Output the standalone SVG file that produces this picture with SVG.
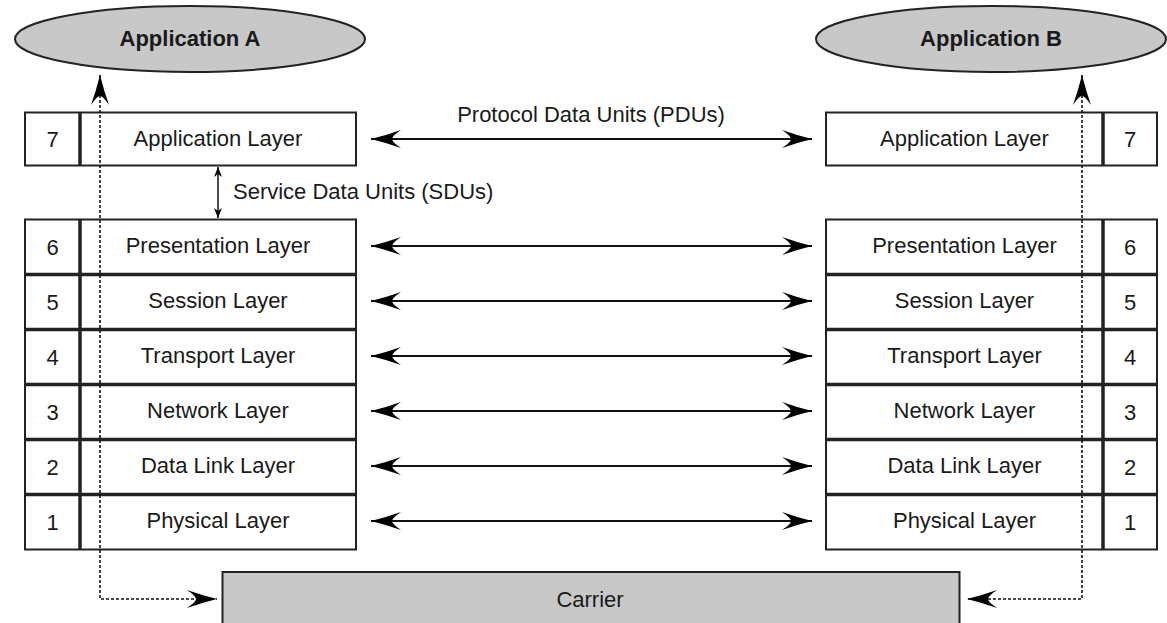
<svg xmlns="http://www.w3.org/2000/svg" width="1167" height="623" viewBox="0 0 1167 623">
<style>
text{font-family:"Liberation Sans",Arial,sans-serif;fill:#1a1a1a;font-size:22px}
.c{text-anchor:middle}
.b{font-weight:bold;font-size:22px}
.box{fill:#fff;stroke:#222;stroke-width:2}
.div{stroke:#222;stroke-width:3.5}
.sep{stroke:#222;stroke-width:3.5}
.ell{fill:#c8c8c8;stroke:#222;stroke-width:2}
.car{fill:#c8c8c8;stroke:#222;stroke-width:2}
.arr{stroke:#111;stroke-width:2;fill:none;marker-start:url(#ah);marker-end:url(#ah)}
.sdu{stroke:#111;stroke-width:1.5;fill:none;marker-start:url(#sh);marker-end:url(#sh)}
.dash{stroke:#111;stroke-width:1.6;fill:none;stroke-dasharray:3 2;marker-start:url(#ah);marker-end:url(#ah)}
</style>
<defs>
<marker id="ah" markerUnits="userSpaceOnUse" markerWidth="32" markerHeight="22" viewBox="0 0 32 22" refX="30" refY="11" orient="auto-start-reverse">
<path d="M30,11 Q14,7 0,2 Q9,8 9,11 Q9,14 0,20 Q14,15 30,11 Z" fill="#000" stroke="none"/>
</marker>
<marker id="sh" markerUnits="userSpaceOnUse" markerWidth="12" markerHeight="10" viewBox="0 0 12 10" refX="10" refY="5" orient="auto-start-reverse">
<path d="M10,5 L0,1 L3,5 L0,9 Z" fill="#000" stroke="none"/>
</marker>
</defs>

<g id="appA"><ellipse class="ell" cx="190" cy="39" rx="175" ry="33"/><text class="c b" x="190" y="46">Application A</text></g>
<g id="appB"><ellipse class="ell" cx="991" cy="39" rx="175" ry="33"/><text class="c b" x="991" y="46">Application B</text></g>

<g id="left7"><rect class="box" x="25" y="112.5" width="331" height="53"/><line class="div" x1="80" y1="112.5" x2="80" y2="165.5"/><text class="c" x="52.5" y="147">7</text><text class="c" x="218" y="146">Application Layer</text></g>
<g id="right7"><rect class="box" x="826" y="112.5" width="331" height="53"/><line class="div" x1="1103" y1="112.5" x2="1103" y2="165.5"/><text class="c" x="1130" y="147">7</text><text class="c" x="964.5" y="146">Application Layer</text></g>

<g id="left6"><rect class="box" x="25" y="219.5" width="331" height="55"/><line class="div" x1="80" y1="219.5" x2="80" y2="274.5"/><text class="c" x="52.5" y="255">6</text><text class="c" x="218" y="253">Presentation Layer</text></g>
<g id="left5"><rect class="box" x="25" y="274.5" width="331" height="55"/><line class="div" x1="80" y1="274.5" x2="80" y2="329.5"/><text class="c" x="52.5" y="310">5</text><text class="c" x="218" y="308">Session Layer</text></g>
<g id="left4"><rect class="box" x="25" y="329.5" width="331" height="55"/><line class="div" x1="80" y1="329.5" x2="80" y2="384.5"/><text class="c" x="52.5" y="365">4</text><text class="c" x="218" y="363">Transport Layer</text></g>
<g id="left3"><rect class="box" x="25" y="384.5" width="331" height="55"/><line class="div" x1="80" y1="384.5" x2="80" y2="439.5"/><text class="c" x="52.5" y="420">3</text><text class="c" x="218" y="418">Network Layer</text></g>
<g id="left2"><rect class="box" x="25" y="439.5" width="331" height="55"/><line class="div" x1="80" y1="439.5" x2="80" y2="494.5"/><text class="c" x="52.5" y="475">2</text><text class="c" x="218" y="473">Data Link Layer</text></g>
<g id="left1"><rect class="box" x="25" y="494.5" width="331" height="55"/><line class="div" x1="80" y1="494.5" x2="80" y2="549.5"/><text class="c" x="52.5" y="530">1</text><text class="c" x="218" y="528">Physical Layer</text></g>
<g id="leftsep"><path class="sep" d="M25,274.5H356M25,329.5H356M25,384.5H356M25,439.5H356M25,494.5H356"/></g>

<g id="right6"><rect class="box" x="826" y="219.5" width="331" height="55"/><line class="div" x1="1103" y1="219.5" x2="1103" y2="274.5"/><text class="c" x="1130" y="255">6</text><text class="c" x="964.5" y="253">Presentation Layer</text></g>
<g id="right5"><rect class="box" x="826" y="274.5" width="331" height="55"/><line class="div" x1="1103" y1="274.5" x2="1103" y2="329.5"/><text class="c" x="1130" y="310">5</text><text class="c" x="964.5" y="308">Session Layer</text></g>
<g id="right4"><rect class="box" x="826" y="329.5" width="331" height="55"/><line class="div" x1="1103" y1="329.5" x2="1103" y2="384.5"/><text class="c" x="1130" y="365">4</text><text class="c" x="964.5" y="363">Transport Layer</text></g>
<g id="right3"><rect class="box" x="826" y="384.5" width="331" height="55"/><line class="div" x1="1103" y1="384.5" x2="1103" y2="439.5"/><text class="c" x="1130" y="420">3</text><text class="c" x="964.5" y="418">Network Layer</text></g>
<g id="right2"><rect class="box" x="826" y="439.5" width="331" height="55"/><line class="div" x1="1103" y1="439.5" x2="1103" y2="494.5"/><text class="c" x="1130" y="475">2</text><text class="c" x="964.5" y="473">Data Link Layer</text></g>
<g id="right1"><rect class="box" x="826" y="494.5" width="331" height="55"/><line class="div" x1="1103" y1="494.5" x2="1103" y2="549.5"/><text class="c" x="1130" y="530">1</text><text class="c" x="964.5" y="528">Physical Layer</text></g>
<g id="rightsep"><path class="sep" d="M826,274.5H1157M826,329.5H1157M826,384.5H1157M826,439.5H1157M826,494.5H1157"/></g>

<g id="carrier"><rect class="car" x="222.5" y="572" width="737" height="70"/><text class="c" x="590" y="607">Carrier</text></g>

<g id="connectors">
<line class="arr" x1="371" y1="139" x2="812" y2="139"/>
<line class="arr" x1="371" y1="246" x2="812" y2="246"/>
<line class="arr" x1="371" y1="301" x2="812" y2="301"/>
<line class="arr" x1="371" y1="356" x2="812" y2="356"/>
<line class="arr" x1="371" y1="411" x2="812" y2="411"/>
<line class="arr" x1="371" y1="466" x2="812" y2="466"/>
<line class="arr" x1="371" y1="521" x2="812" y2="521"/>
<line class="sdu" x1="218" y1="167" x2="218" y2="218"/>
<path class="dash" d="M100,75 V599 H217"/>
<path class="dash" d="M1082,75 V599 H967"/>
<text class="c" x="591" y="122">Protocol Data Units (PDUs)</text>
<text x="233" y="199">Service Data Units (SDUs)</text>
</g>
</svg>
